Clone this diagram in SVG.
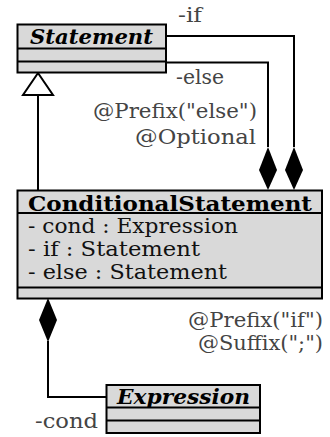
<svg xmlns="http://www.w3.org/2000/svg" width="330" height="437" viewBox="0 0 330 437">
<style>
.box{fill:#d9d9d9;stroke:#000;stroke-width:2}
.sep{stroke:#000;stroke-width:2}
.ln{fill:none;stroke:#000;stroke-width:2}
text{font-family:"DejaVu Serif","Liberation Serif",serif;font-size:21px}
.hdr{font-weight:bold;font-style:italic;fill:#000}
.hdrb{font-weight:bold;fill:#000}
.attr{fill:#111}
.lbl{fill:#444}
</style>
<rect width="330" height="437" fill="#fff"/>
<g id="connectors">
  <line class="ln" x1="38" y1="95" x2="38" y2="190"/>
  <polygon points="38,73 23,95 53,95" fill="#fff" stroke="#000" stroke-width="2"/>
  <polyline class="ln" points="166,36 294,36 294,147"/>
  <polygon points="294,147 303,170 294,190 285,170" fill="#000"/>
  <polyline class="ln" points="166,62.5 268,62.5 268,147"/>
  <polygon points="268,147 277,170 268,190 259,170" fill="#000"/>
  <polyline class="ln" points="48,341 48,397 106,397"/>
  <polygon points="48,298 57,320 48,342 39,320" fill="#000"/>
  <text class="lbl" x="178" y="22" textLength="24" lengthAdjust="spacingAndGlyphs">-if</text>
  <text class="lbl" x="176" y="84" textLength="48" lengthAdjust="spacingAndGlyphs">-else</text>
  <text class="lbl" x="93" y="118" textLength="164" lengthAdjust="spacingAndGlyphs">@Prefix("else")</text>
  <text class="lbl" x="135" y="144" textLength="121" lengthAdjust="spacingAndGlyphs">@Optional</text>
  <text class="lbl" x="188" y="327" textLength="135" lengthAdjust="spacingAndGlyphs">@Prefix("if")</text>
  <text class="lbl" x="198" y="350" textLength="125" lengthAdjust="spacingAndGlyphs">@Suffix(";")</text>
  <text class="lbl" x="35" y="428" textLength="63" lengthAdjust="spacingAndGlyphs">-cond</text>
</g>
<g id="Statement">
  <rect class="box" x="17.5" y="24.5" width="148.5" height="48"/>
  <line class="sep" x1="17.5" y1="48.5" x2="166" y2="48.5"/>
  <line class="sep" x1="17.5" y1="61.5" x2="166" y2="61.5"/>
  <text class="hdr" x="30" y="44" textLength="123" lengthAdjust="spacingAndGlyphs">Statement</text>
</g>
<g id="ConditionalStatement">
  <rect class="box" x="17.5" y="190.5" width="304.5" height="108"/>
  <line class="sep" x1="17.5" y1="213" x2="322" y2="213"/>
  <line class="sep" x1="17.5" y1="287.5" x2="322" y2="287.5"/>
  <text class="hdrb" x="28" y="211" textLength="284" lengthAdjust="spacingAndGlyphs">ConditionalStatement</text>
  <text class="attr" x="28" y="233" textLength="210" lengthAdjust="spacingAndGlyphs">- cond : Expression</text>
  <text class="attr" x="28" y="256" textLength="172" lengthAdjust="spacingAndGlyphs">- if : Statement</text>
  <text class="attr" x="28" y="279" textLength="199" lengthAdjust="spacingAndGlyphs">- else : Statement</text>
</g>
<g id="Expression">
  <rect class="box" x="106.5" y="385" width="153.5" height="48"/>
  <line class="sep" x1="106.5" y1="407.5" x2="260" y2="407.5"/>
  <line class="sep" x1="106.5" y1="420.5" x2="260" y2="420.5"/>
  <text class="hdr" x="117" y="404" textLength="133" lengthAdjust="spacingAndGlyphs">Expression</text>
</g>
</svg>
